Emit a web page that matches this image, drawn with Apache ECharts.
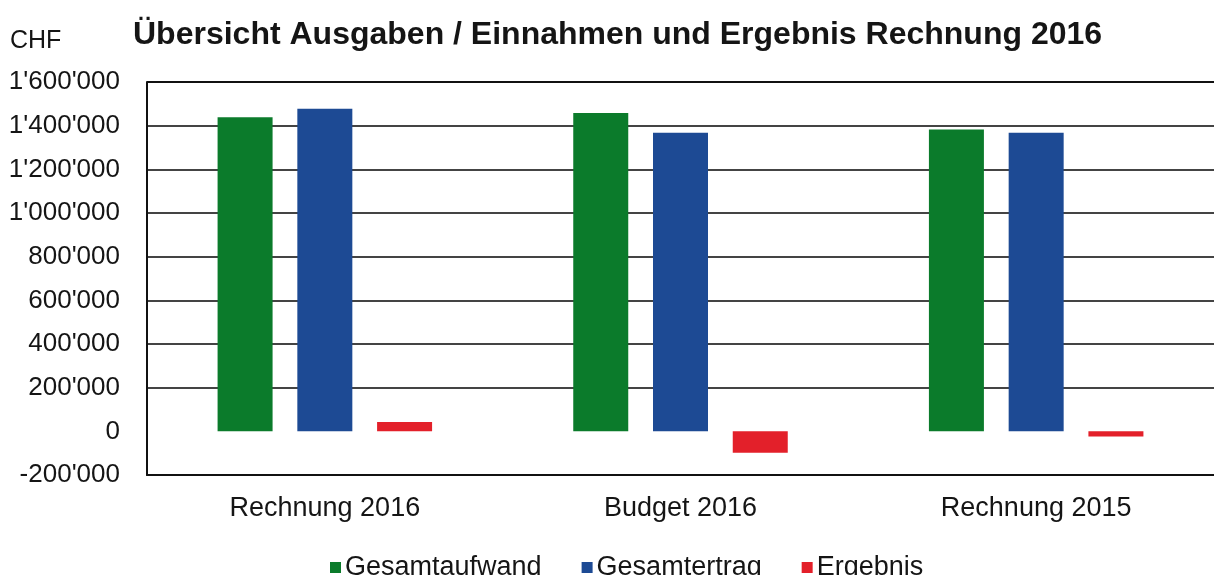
<!DOCTYPE html>
<html lang="de">

<head>
    <meta charset="UTF-8">
    <title>Übersicht Ausgaben / Einnahmen</title>
    <script src="https://cdn.jsdelivr.net/npm/echarts@6/dist/echarts.min.js"></script>
    <style>
        html, body { margin: 0; padding: 0; background: #fff; }
    </style>
</head>

<body>
    <div id="chart" style="width: 1214px; height: 575px;"></div>
    <script>
        // Daten
        const categories = ['Rechnung 2016', 'Budget 2016', 'Rechnung 2015'];
        const seriesNames = ['Gesamtaufwand', 'Gesamtertrag', 'Ergebnis'];
        const aufwand = [1438000, 1458000, 1382000];
        const ertrag = [1478000, 1368000, 1367000];
        const ergebnis = [43000, -98000, -24000];
        const yTicks = [-200000, 0, 200000, 400000, 600000, 800000, 1000000, 1200000, 1400000, 1600000];

        const colors = ['#0b7b2b', '#1d4a94', '#e3202a'];

        // 1'600'000 Format
        function chf(v) {
            const s = String(Math.abs(v)).replace(/\B(?=(\d{3})+(?!\d))/g, "'");
            return (v < 0 ? '-' : '') + s;
        }

        // Gitterlinien: unten/oben schwarz, keine Linie bei 0
        const gridColors = yTicks.map(function (t, i) {
            if (i === 0 || i === yTicks.length - 1) return '#111';
            if (t === 0) return 'rgba(0,0,0,0)';
            return '#444';
        });

        const chart = echarts.init(document.getElementById('chart'));
        const font = 'Liberation Sans, Arial, sans-serif';

        chart.setOption({
            animation: false,
            textStyle: { fontFamily: font },
            title: [{
                text: 'Übersicht Ausgaben / Einnahmen und Ergebnis Rechnung 2016',
                left: 128,
                top: 14,
                textStyle: { fontSize: 32, fontWeight: 'bold', color: '#151515', fontFamily: font }
            }, {
                text: 'CHF',
                left: 5,
                top: 24,
                textStyle: { fontSize: 25, fontWeight: 'normal', color: '#151515', fontFamily: font }
            }],
            legend: {
                data: seriesNames,
                left: 325,
                top: 549,
                itemWidth: 11,
                itemHeight: 11,
                itemGap: 40,
                icon: 'rect',
                textStyle: { fontSize: 27, color: '#151515', fontFamily: font, padding: [0, 0, 0, -1] }
            },
            grid: {
                left: 147,
                top: 82,
                right: -10,
                bottom: 100
            },
            xAxis: {
                type: 'category',
                data: categories,
                axisLine: { show: true, onZero: false, lineStyle: { color: '#111', width: 2 } },
                axisTick: { show: false },
                axisLabel: { fontSize: 27, color: '#151515', margin: 20 },
                splitLine: { show: false }
            },
            yAxis: {
                type: 'value',
                min: yTicks[0],
                max: yTicks[yTicks.length - 1],
                interval: 200000,
                axisLine: { show: true, lineStyle: { color: '#111', width: 2 } },
                axisTick: { show: false },
                axisLabel: { fontSize: 26, color: '#151515', margin: 27, formatter: chf },
                splitLine: { show: true, lineStyle: { color: gridColors, width: 2 } }
            },
            series: [{
                name: seriesNames[0],
                type: 'bar',
                data: aufwand,
                barWidth: 55,
                barGap: '45%',
                itemStyle: { color: colors[0] }
            }, {
                name: seriesNames[1],
                type: 'bar',
                data: ertrag,
                barWidth: 55,
                barGap: '45%',
                itemStyle: { color: colors[1] }
            }, {
                name: seriesNames[2],
                type: 'bar',
                data: ergebnis,
                barWidth: 55,
                barGap: '45%',
                itemStyle: { color: colors[2] }
            }]
        });
    </script>
</body>

</html>
